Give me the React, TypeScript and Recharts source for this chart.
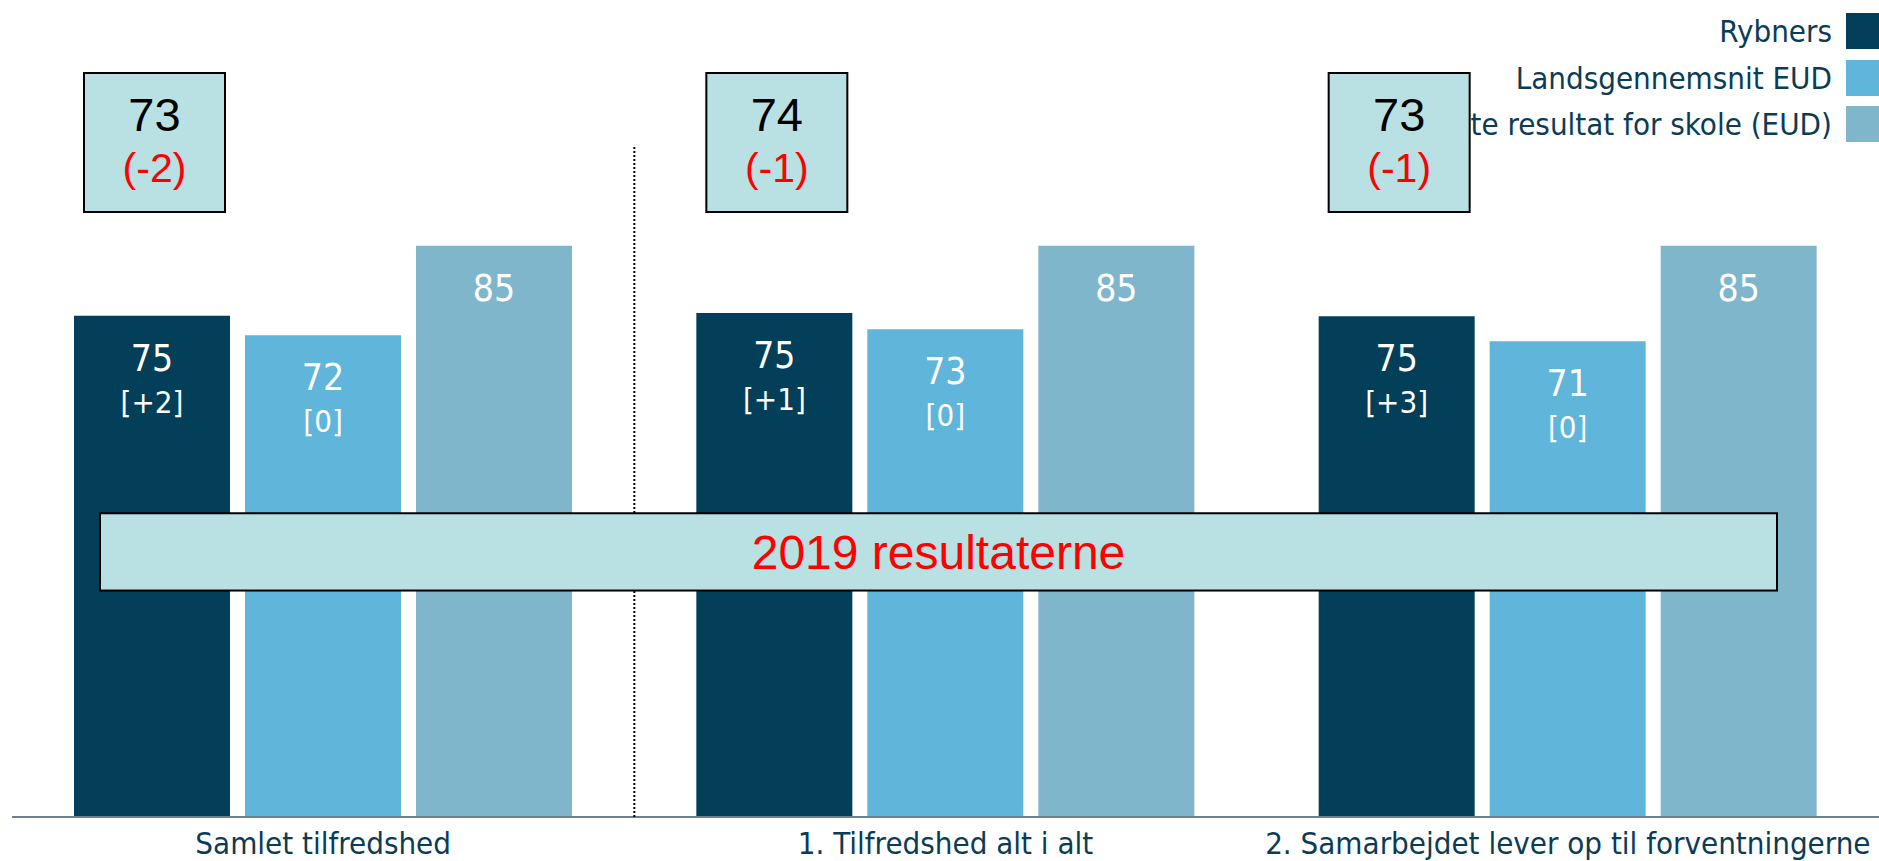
import { Bar, BarChart, LabelList, ReferenceArea, ReferenceLine, XAxis, YAxis } from "recharts";

const categories = ["Samlet tilfredshed", "1. Tilfredshed alt i alt", "2. Samarbejdet lever op til forventningerne"];
const seriesNames = ["Rybners", "Landsgennemsnit EUD", "Bedste resultat for skole (EUD)"];

const rybners = [74.6, 75.0, 74.5];
const rybnersDelta = ["+2", "+1", "+3"];
const landsgennemsnit = [71.7, 72.6, 70.8];
const landsDelta = ["0", "0", "0"];
const bedste = [85, 85, 85];

const prevScore = [73, 74, 73];
const prevDelta = ["-2", "-1", "-1"];

const bannerFrom = 33.7;
const bannerTo = 45.2;
const bannerText = "2019 resultaterne";

const COLORS = ["#033f58", "#5fb5da", "#80b6cb"];
const TEXT = "#0b3c55";
const BOX_FILL = "#b9e0e3";
const TAHOMA = "'DejaVu Sans Condensed', 'DejaVu Sans', sans-serif";
const ARIAL = "'Liberation Sans', Arial, sans-serif";

const W = 1879;
const H = 861;
const MARGIN = { top: 145, right: 0, bottom: 0, left: 12 };

const data = categories.map((name, i) => ({
  name,
  rybners: rybners[i],
  lands: landsgennemsnit[i],
  bedste: bedste[i],
}));

// boxes with last year's score, hung above the Rybners bars
function box(props: any) {
  const vb = props.viewBox ?? props;
  const x = props.x ?? vb.x;
  const i = props.index;
  const left = x + 10;
  const top = MARGIN.top - 72;
  const w = 141;
  const h = 139;
  return (
    <g>
      <rect x={left} y={top} width={w} height={h} fill={BOX_FILL} stroke="#000" strokeWidth={2} />
      <text x={left + w / 2} y={top + 58} textAnchor="middle" fontFamily={ARIAL} fontSize={47} fill="#000">
        {prevScore[i]}
      </text>
      <text x={left + w / 2} y={top + 109} textAnchor="middle" fontFamily={ARIAL} fontSize={41} fill="#ff0000">
        ({prevDelta[i]})
      </text>
    </g>
  );
}

function barLabel(deltas: string[] | null) {
  return (props: any) => {
    const vb = props.viewBox ?? props;
    const x = props.x ?? vb.x;
    const y = props.y ?? vb.y;
    const width = props.width ?? vb.width;
    const cx = x + width / 2;
    return (
      <g>
        <text x={cx} y={y + 55} textAnchor="middle" fill="#fff" fontFamily={TAHOMA} fontSize={37}>
          {Math.round(Number(props.value))}
        </text>
        {deltas && (
          <text x={cx} y={y + 97} textAnchor="middle" fill="#fff" fontFamily={TAHOMA} fontSize={31}>
            [{deltas[props.index]}]
          </text>
        )}
      </g>
    );
  };
}

function AxisTick({ x, y, payload }: any) {
  return (
    <text x={x} y={y + 37} textAnchor="middle" fill={TEXT} fontFamily={TAHOMA} fontSize={31}>
      {payload.value}
    </text>
  );
}

function banner(props: any) {
  const left = props.x + 88;
  const width = props.width - 88 - 102;
  return (
    <g>
      <rect x={left} y={props.y} width={width} height={props.height} fill={BOX_FILL} stroke="#000" strokeWidth={2} />
      <text
        x={left + width / 2}
        y={props.y + props.height / 2 + 17}
        textAnchor="middle"
        fontFamily={ARIAL}
        fontSize={48}
        fill="#ff0000"
      >
        {bannerText}
      </text>
    </g>
  );
}

export default function App() {
  return (
    <div style={{ position: "absolute", left: 0, top: 0, width: W, height: H, overflow: "hidden", background: "#fff" }}>
      {/* legend sits under the chart so the third box hides the start of the last label */}
      <div style={{ position: "absolute", left: 0, top: 0, width: W, height: H, zIndex: 0 }}>
        {seriesNames.map((s, i) => (
          <div
            key={s}
            style={{
              position: "absolute",
              right: 0,
              top: 13 + i * 46.7,
              height: 36,
              display: "flex",
              alignItems: "center",
              whiteSpace: "nowrap",
              marginRight: -3,
            }}
          >
            <span style={{ fontFamily: TAHOMA, fontSize: 31, color: TEXT, marginRight: 14 }}>{s}</span>
            <span style={{ display: "inline-block", width: 36, height: 36, background: COLORS[i] }} />
          </div>
        ))}
      </div>
      <div style={{ position: "absolute", left: 0, top: 0, zIndex: 1 }}>
        <BarChart width={W} height={H} data={data} margin={MARGIN} barSize={156} barGap={15}>
          <XAxis
            dataKey="name"
            height={44}
            tickLine={false}
            tickSize={0}
            tickMargin={0}
            axisLine={{ stroke: "#6a8194", strokeWidth: 2 }}
            tick={<AxisTick />}
            interval={0}
          />
          <YAxis hide domain={[0, 100]} />
          <ReferenceLine
            x={categories[1]}
            position="start"
            stroke="#000"
            strokeWidth={2}
            strokeDasharray="2 2"
            zIndex={1500}
          />
          <Bar dataKey="rybners" name={seriesNames[0]} fill={COLORS[0]} isAnimationActive={false}>
            <LabelList dataKey="rybners" content={barLabel(rybnersDelta)} />
            <LabelList dataKey="rybners" content={box} />
          </Bar>
          <Bar dataKey="lands" name={seriesNames[1]} fill={COLORS[1]} isAnimationActive={false}>
            <LabelList dataKey="lands" content={barLabel(landsDelta)} />
          </Bar>
          <Bar dataKey="bedste" name={seriesNames[2]} fill={COLORS[2]} isAnimationActive={false}>
            <LabelList dataKey="bedste" content={barLabel(null)} />
          </Bar>
          <ReferenceArea y1={bannerFrom} y2={bannerTo} shape={banner} zIndex={1600} ifOverflow="visible" />
        </BarChart>
      </div>
    </div>
  );
}
